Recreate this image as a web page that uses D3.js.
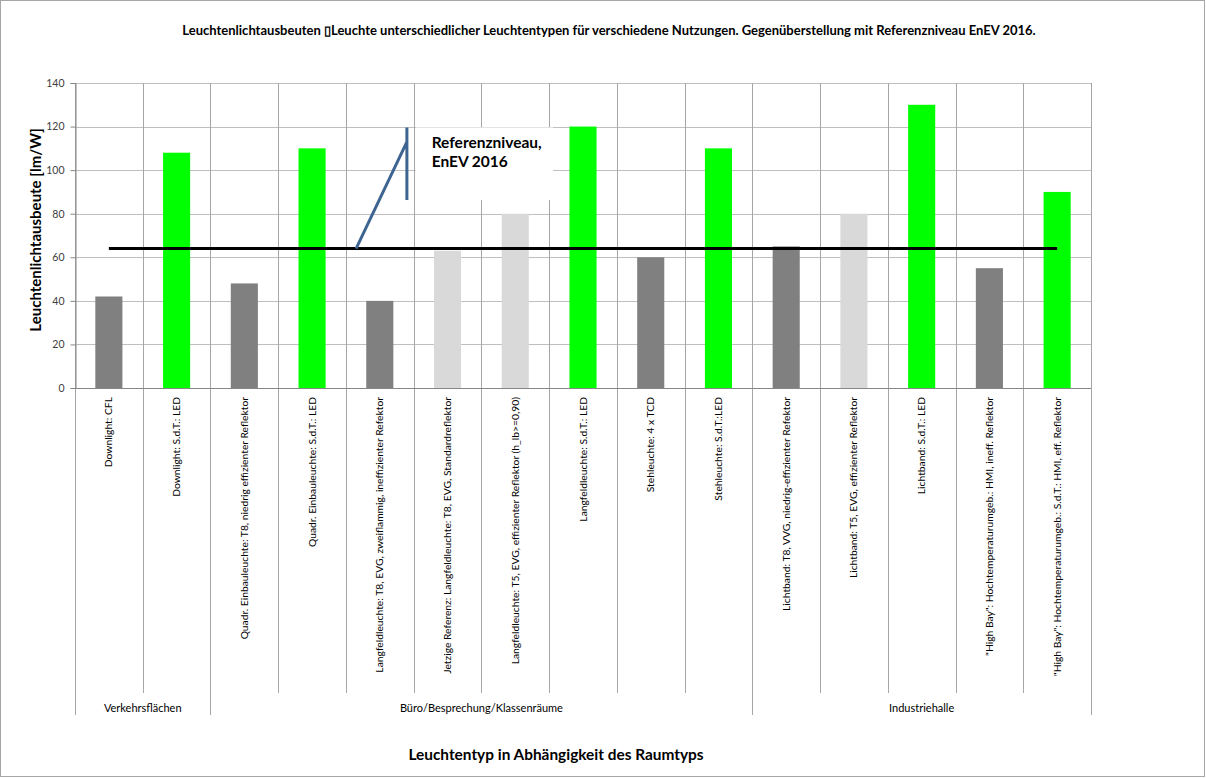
<!DOCTYPE html>
<html>
<head>
<meta charset="utf-8">
<script src="https://cdn.jsdelivr.net/npm/d3@7"></script>
<style>
  body { margin: 0; background: #fff; }
  svg { display: block; font-family: Lato, 'Liberation Sans', sans-serif; }
</style>
</head>
<body>
<div id="chart"></div>
<script>
// Data
const categories = [
  'Downlight: CFL',
  'Downlight: S.d.T.: LED',
  'Quadr. Einbauleuchte: T8, niedrig effizienter Reflektor',
  'Quadr. Einbauleuchte: S.d.T.: LED',
  'Langfeldleuchte: T8, EVG, zweiflammig, ineffizienter Refektor',
  'Jetzige Referenz: Langfeldleuchte: T8, EVG, Standardreflektor',
  'Langfeldleuchte: T5, EVG, effizienter Reflektor (h_lb>=0,90)',
  'Langfeldleuchte: S.d.T.: LED',
  'Stehleuchte: 4 x TCD',
  'Stehleuchte: S.d.T.:LED',
  'Lichtband: T8, VVG, niedrig-effizienter Refektor',
  'Lichtband: T5, EVG, effizienter Reflektor',
  'Lichtband: S.d.T.: LED',
  '"High Bay": Hochtemperaturumgeb.: HMI, ineff. Reflektor',
  '"High Bay": Hochtemperaturumgeb.: S.d.T.: HMI, eff.  Reflektor'
];
const values = [42, 108, 48, 110, 40, 63, 80, 120, 60, 110, 65, 80, 130, 55, 90];
const kinds = ['alt', 'led', 'alt', 'led', 'alt', 'ref', 'ref', 'led', 'alt', 'led', 'alt', 'ref', 'led', 'alt', 'led'];
const groupNames = ['Verkehrsflächen', 'Büro/Besprechung/Klassenräume', 'Industriehalle'];
const groupSizes = [2, 8, 5];
const yTicks = [0, 20, 40, 60, 80, 100, 120, 140];
const referenceLevel = 64;
const calloutLines = ['Referenzniveau,', 'EnEV 2016'];

const title = 'Leuchtenlichtausbeuten \u25AFLeuchte unterschiedlicher Leuchtentypen für verschiedene Nutzungen. Gegenüberstellung mit Referenzniveau EnEV 2016.';
const yTitle = 'Leuchtenlichtausbeute [lm/W]';
const xTitle = 'Leuchtentyp in Abhängigkeit des Raumtyps';

const colors = { alt: '#808080', led: '#00ff00', ref: '#d9d9d9' };

const W = 1206, H = 778;
const plot = { left: 75, right: 1091, top: 83, bottom: 388 };

const svg = d3.select('#chart').append('svg')
  .attr('width', W)
  .attr('height', H);

// outer border
svg.append('rect')
  .attr('x', 0.5).attr('y', 0.5)
  .attr('width', W - 2).attr('height', H - 2)
  .attr('fill', '#fff')
  .attr('stroke', '#a6a6a6');

const x = d3.scaleBand()
  .domain(categories)
  .range([plot.left, plot.right]);

const y = d3.scaleLinear()
  .domain([0, 140])
  .range([plot.bottom, plot.top]);

const step = x.step();
const barW = step * 0.4;

// horizontal gridlines
svg.append('g')
  .selectAll('line')
  .data(yTicks)
  .enter().append('line')
  .attr('x1', plot.left).attr('x2', plot.right)
  .attr('y1', d => Math.round(y(d)) + 0.5)
  .attr('y2', d => Math.round(y(d)) + 0.5)
  .attr('stroke', '#bfbfbf');

// vertical gridlines + category separators below the axis
const groupEdges = [0];
groupSizes.forEach(s => groupEdges.push(groupEdges[groupEdges.length - 1] + s));
const boundaries = d3.range(categories.length + 1);

svg.append('g')
  .selectAll('line')
  .data(boundaries)
  .enter().append('line')
  .attr('x1', i => Math.round(plot.left + i * step) + 0.5)
  .attr('x2', i => Math.round(plot.left + i * step) + 0.5)
  .attr('y1', plot.top)
  .attr('y2', i => groupEdges.includes(i) ? 715 : 693)
  .attr('stroke', '#a6a6a6');

// bars
svg.append('g')
  .selectAll('rect')
  .data(categories)
  .enter().append('rect')
  .attr('x', d => x(d) + (step - barW) / 2)
  .attr('width', barW)
  .attr('y', (d, i) => y(values[i]))
  .attr('height', (d, i) => y(0) - y(values[i]))
  .attr('fill', (d, i) => colors[kinds[i]]);

// axes
const yAxis = svg.append('g')
  .attr('transform', `translate(${plot.left + 0.5},0)`)
  .call(d3.axisLeft(y).tickValues(yTicks).tickSize(5).tickPadding(6));
yAxis.select('.domain').attr('stroke', '#868686');
yAxis.selectAll('.tick line').attr('stroke', '#868686');
yAxis.selectAll('.tick text')
  .attr('fill', '#404040')
  .style('font-size', '10.5px')
  .style('font-family', 'Lato, sans-serif');

svg.append('line')
  .attr('x1', plot.left).attr('x2', plot.right)
  .attr('y1', plot.bottom + 0.5).attr('y2', plot.bottom + 0.5)
  .attr('stroke', '#868686');

// reference level line
svg.append('line')
  .attr('x1', x(categories[0]) + step / 2)
  .attr('x2', x(categories[categories.length - 1]) + step / 2)
  .attr('y1', y(referenceLevel))
  .attr('y2', y(referenceLevel))
  .attr('stroke', '#000')
  .attr('stroke-width', 3);

// callout box + leader
const boxX0 = x(categories[5]) + 2;
const boxX1 = x(categories[7]) + 4;
svg.append('rect')
  .attr('x', boxX0)
  .attr('y', y(119.6))
  .attr('width', boxX1 - boxX0)
  .attr('height', y(86.3) - y(119.6))
  .attr('fill', '#fff');

const leaderX = x(categories[4]) + step * 0.9;
svg.append('path')
  .attr('d', `M${x(categories[4]) + step * 0.15},${y(referenceLevel)} L${leaderX},${y(113)}`
    + ` M${leaderX},${y(119.6)} L${leaderX},${y(86.3)}`)
  .attr('fill', 'none')
  .attr('stroke', '#3e6592')
  .attr('stroke-width', 3);

svg.append('text')
  .attr('x', boxX0 + 16)
  .attr('y', y(110.2))
  .style('font-size', '15.5px')
  .style('font-weight', 'bold')
  .attr('fill', '#000')
  .selectAll('tspan')
  .data(calloutLines)
  .enter().append('tspan')
  .attr('x', boxX0 + 16)
  .attr('dy', (d, i) => i === 0 ? 0 : 19)
  .text(d => d);

// category labels (rotated)
svg.append('g')
  .selectAll('text')
  .data(categories)
  .enter().append('text')
  .attr('transform', d => `translate(${x(d) + step / 2 + 3.5},${plot.bottom + 9}) rotate(-90)`)
  .attr('text-anchor', 'end')
  .style('font-size', '10.3px')
  .attr('fill', '#000')
  .text(d => d);

// group labels
svg.append('g')
  .selectAll('text')
  .data(groupNames)
  .enter().append('text')
  .attr('x', (d, i) => plot.left + (groupEdges[i] + groupEdges[i + 1]) / 2 * step)
  .attr('y', 712)
  .attr('text-anchor', 'middle')
  .style('font-size', '11px')
  .attr('fill', '#000')
  .text(d => d);

// titles
svg.append('text')
  .attr('x', 609).attr('y', 35)
  .attr('text-anchor', 'middle')
  .style('font-size', '13px')
  .style('font-weight', 'bold')
  .text(title);

svg.append('text')
  .attr('transform', `translate(41,230) rotate(-90)`)
  .attr('text-anchor', 'middle')
  .style('font-size', '15px')
  .style('font-weight', 'bold')
  .text(yTitle);

svg.append('text')
  .attr('x', 556).attr('y', 760)
  .attr('text-anchor', 'middle')
  .style('font-size', '15.4px')
  .style('font-weight', 'bold')
  .text(xTitle);
</script>
</body>
</html>
